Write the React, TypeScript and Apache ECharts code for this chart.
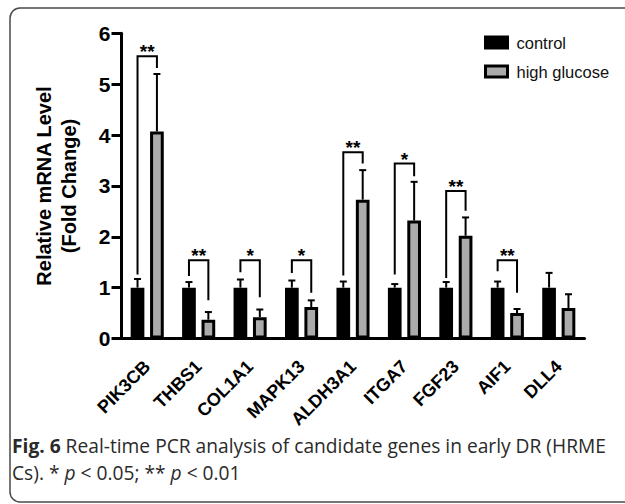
import React, { useEffect, useRef } from 'react';
import * as echarts from 'echarts';

// ---- data ----
const genes = ['PIK3CB', 'THBS1', 'COL1A1', 'MAPK13', 'ALDH3A1', 'ITGA7', 'FGF23', 'AIF1', 'DLL4'];
const controlMean = [1, 1, 1, 1, 1, 1, 1, 1, 1];
const controlSD = [0.17, 0.11, 0.16, 0.14, 0.12, 0.07, 0.11, 0.12, 0.29];
const highGlucoseMean = [4.07, 0.37, 0.42, 0.62, 2.73, 2.32, 2.02, 0.5, 0.6];
const highGlucoseSD = [1.13, 0.15, 0.15, 0.13, 0.58, 0.76, 0.36, 0.08, 0.27];
// significance annotations (value-axis units)
const sigLabels = ['**', '**', '*', '*', '**', '*', '**', '**', ''];
const bracketTop = [5.55, 1.54, 1.54, 1.54, 3.66, 3.44, 2.9, 1.54, 0];
const bracketLeftEnd = [1.26, 1.23, 1.3, 1.29, 1.24, 1.26, 1.19, 1.32, 0];
const bracketRightEnd = [5.32, 0.75, 0.81, 0.9, 3.44, 3.19, 2.51, 0.9, 0];
const yMin = 0;
const yMax = 6;
const yInterval = 1;
const captionLine1 = 'Real-time PCR analysis of candidate genes in early DR (HRME';
const yTitle1 = 'Relative mRNA Level';
const yTitle2 = '(Fold Change)';

const BAR_W = 13.7;
const BORDER = 3;
const GAP_PX = 5.7;
const HALF = (BAR_W + GAP_PX) / 2;
const FONT = "'Liberation Sans', Arial, Helvetica, sans-serif";
const CAP_FONT = "'Open Sans', 'Noto Sans', sans-serif";
const GREY = '#ababab';
const CAP_SIZE = 19.2;
const CAP_LH = 21;

export default function App() {
  const ref = useRef<HTMLDivElement>(null);

  useEffect(() => {
    const chart = echarts.init(ref.current!, null, { renderer: 'svg' });

    const errRender = (sign: number) => (params: any, api: any) => {
      const i = api.value(0);
      const m = api.value(1);
      const sd = api.value(2);
      const base = api.coord([i, m]);
      const top = api.coord([i, m + sd]);
      const x = base[0] + sign * HALF;
      return {
        type: 'group',
        children: [
          { type: 'line', shape: { x1: x, y1: base[1], x2: x, y2: top[1] }, style: { stroke: '#000', lineWidth: 2 } },
          { type: 'line', shape: { x1: x - 3.5, y1: top[1], x2: x + 3.5, y2: top[1] }, style: { stroke: '#000', lineWidth: 2 } },
        ],
      };
    };

    const bracketIdx = genes.map((_, i) => i).filter((i) => sigLabels[i] !== '');

    const bracketRender = (params: any, api: any) => {
      const idx = bracketIdx[params.dataIndex];
      const i = api.value(0);
      const topP = api.coord([i, bracketTop[idx]]);
      const lP = api.coord([i, bracketLeftEnd[idx]]);
      const rP = api.coord([i, bracketRightEnd[idx]]);
      const xl = topP[0] - HALF;
      const xr = topP[0] + HALF;
      return {
        type: 'group',
        children: [
          {
            type: 'polyline',
            shape: { points: [[xl, lP[1]], [xl, topP[1]], [xr, topP[1]], [xr, rP[1]]] },
            style: { stroke: '#000', lineWidth: 2, fill: 'none' },
          },
          {
            type: 'text',
            x: topP[0],
            y: topP[1] + 5,
            style: {
              text: sigLabels[idx],
              fontFamily: FONT,
              fontWeight: 'bold',
              fontSize: 19,
              fill: '#000',
              align: 'center',
              verticalAlign: 'bottom',
            },
          },
        ],
      };
    };

    chart.setOption({
      animation: false,
      backgroundColor: '#fff',
      grid: { left: 121.5, top: 33.3, width: 463, height: 305.2, containLabel: false },
      legend: {
        orient: 'vertical',
        left: 479,
        top: 29,
        itemWidth: 22,
        itemHeight: 11,
        itemGap: 12,
        selectedMode: false,
        textStyle: { fontFamily: FONT, fontSize: 16.5, color: '#111', padding: [0, 0, 0, 4] },
        data: [
          { name: 'control', icon: 'rect', itemStyle: { color: '#000', borderColor: '#000', borderWidth: BORDER } },
          { name: 'high glucose', icon: 'rect', itemStyle: { color: GREY, borderColor: '#000', borderWidth: BORDER } },
        ],
      },
      xAxis: {
        type: 'category',
        data: genes,
        boundaryGap: true,
        axisLine: { lineStyle: { color: '#000', width: 3 } },
        axisTick: { alignWithLabel: true, length: 14, lineStyle: { color: '#000', width: 3 } },
        axisLabel: {
          rotate: 45,
          interval: 0,
          margin: 25,
          fontFamily: FONT,
          fontWeight: 'bold',
          fontSize: 18,
          color: '#000',
        },
        splitLine: { show: false },
      },
      yAxis: {
        type: 'value',
        min: yMin,
        max: yMax,
        interval: yInterval,
        axisLine: { show: true, lineStyle: { color: '#000', width: 3 } },
        axisTick: { show: true, length: 10, lineStyle: { color: '#000', width: 3 } },
        axisLabel: { margin: 11, fontFamily: FONT, fontWeight: 'bold', fontSize: 21, color: '#000' },
        splitLine: { show: false },
      },
      series: [
        {
          name: 'control',
          type: 'bar',
          data: controlMean,
          barWidth: BAR_W,
          barGap: (GAP_PX / BAR_W) * 100 + '%',
          itemStyle: { color: '#000', borderColor: '#000', borderWidth: BORDER },
          z: 2,
        },
        {
          name: 'high glucose',
          type: 'bar',
          data: highGlucoseMean,
          barWidth: BAR_W,
          itemStyle: { color: GREY, borderColor: '#000', borderWidth: BORDER },
          z: 2,
        },
        {
          type: 'custom',
          renderItem: errRender(-1),
          data: genes.map((_, i) => [i, controlMean[i], controlSD[i]]),
          z: 3,
          clip: false,
          silent: true,
        },
        {
          type: 'custom',
          renderItem: errRender(1),
          data: genes.map((_, i) => [i, highGlucoseMean[i], highGlucoseSD[i]]),
          z: 3,
          clip: false,
          silent: true,
        },
        {
          type: 'custom',
          renderItem: bracketRender,
          data: bracketIdx.map((i) => [i, bracketTop[i]]),
          z: 4,
          clip: false,
          silent: true,
        },
      ],
      graphic: [
        {
          type: 'rect',
          shape: { x: 10, y: 8, width: 640, height: 494, r: 10 },
          style: { fill: 'none', stroke: '#4a4a4a', lineWidth: 1.5 },
          silent: true,
        },
        {
          type: 'text',
          x: 43.5,
          y: 186,
          rotation: Math.PI / 2,
          style: { text: yTitle1, fontFamily: FONT, fontWeight: 'bold', fontSize: 20, fill: '#000', align: 'center', verticalAlign: 'middle' },
        },
        {
          type: 'text',
          x: 69,
          y: 186,
          rotation: Math.PI / 2,
          style: { text: yTitle2, fontFamily: FONT, fontWeight: 'bold', fontSize: 20, fill: '#000', align: 'center', verticalAlign: 'middle' },
        },
        {
          type: 'text',
          x: 12,
          y: 445.5,
          style: {
            text: '{b|Fig. 6} ' + captionLine1,
            fontFamily: CAP_FONT,
            fontSize: CAP_SIZE,
            lineHeight: CAP_LH,
            fill: '#2a2a2a',
            verticalAlign: 'middle',
            rich: {
              b: { fontFamily: CAP_FONT, fontWeight: 'bold', fontSize: CAP_SIZE, lineHeight: CAP_LH, fill: '#2a2a2a' },
            },
          },
        },
        {
          type: 'text',
          x: 12,
          y: 472,
          style: {
            text: 'Cs). * {i|p} < 0.05; ** {i|p} < 0.01',
            fontFamily: CAP_FONT,
            fontSize: CAP_SIZE,
            lineHeight: CAP_LH,
            fill: '#2a2a2a',
            verticalAlign: 'middle',
            rich: {
              i: { fontFamily: CAP_FONT, fontStyle: 'italic', fontSize: CAP_SIZE, lineHeight: CAP_LH, fill: '#2a2a2a' },
            },
          },
        },
      ],
    });

    return () => chart.dispose();
  }, []);

  return (
    <div
      ref={ref}
      style={{ position: 'fixed', left: 0, top: 0, width: 625, height: 504, background: '#fff' }}
    />
  );
}
